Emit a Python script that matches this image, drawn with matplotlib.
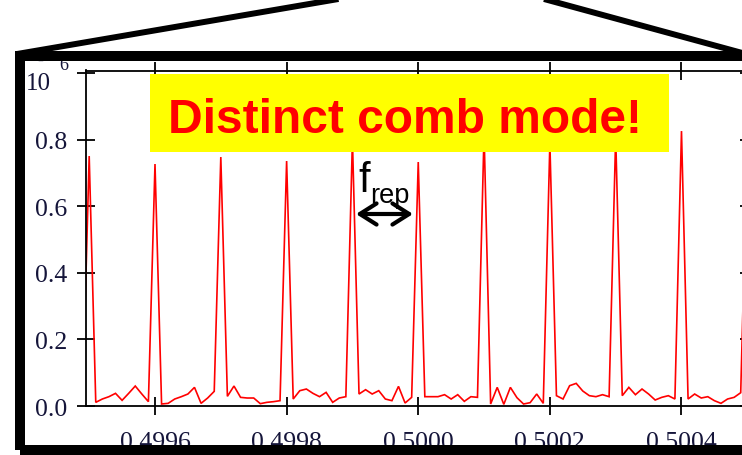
import numpy as np
import matplotlib
matplotlib.use("Agg")
import matplotlib.pyplot as plt
from matplotlib.patches import Rectangle
from matplotlib.lines import Line2D

# ---- spectrum data (power in units of 1e-6) ----
freq_start = 0.49949          # first sample of the frequency grid
freq_step = 1e-5              # spectrum sample spacing

# power at each comb line, lines at 0.4995, 0.4996, ... 0.5005
peak_power = [0.751, 0.727, 0.748, 0.736, 0.800, 0.733, 0.820, 0.790, 0.810, 0.826, 0.800]

# noise floor between neighbouring comb lines (9 samples per gap)
floor_before = [0.020]
floor_gaps = [
    [0.011, 0.021, 0.028, 0.038, 0.017, 0.038, 0.060, 0.036, 0.013],
    [0.006, 0.008, 0.021, 0.028, 0.036, 0.056, 0.008, 0.024, 0.044],
    [0.029, 0.060, 0.026, 0.024, 0.024, 0.007, 0.011, 0.013, 0.016],
    [0.021, 0.046, 0.051, 0.038, 0.028, 0.041, 0.011, 0.024, 0.028],
    [0.036, 0.049, 0.036, 0.046, 0.021, 0.016, 0.059, 0.009, 0.026],
    [0.028, 0.028, 0.028, 0.034, 0.021, 0.034, 0.014, 0.028, 0.026],
    [0.006, 0.056, 0.005, 0.056, 0.025, 0.006, 0.010, 0.036, 0.008],
    [0.031, 0.021, 0.061, 0.068, 0.045, 0.031, 0.028, 0.034, 0.028],
    [0.031, 0.056, 0.034, 0.051, 0.036, 0.018, 0.026, 0.031, 0.021],
    [0.021, 0.036, 0.024, 0.028, 0.016, 0.008, 0.021, 0.026, 0.040],
]
floor_after = [0.020]

x_ticks = [0.4996, 0.4998, 0.5000, 0.5002, 0.5004]
x_tick_labels = ["0.4996", "0.4998", "0.5000", "0.5002", "0.5004"]
y_ticks = [0.0, 0.2, 0.4, 0.6, 0.8, 1.0]
y_tick_labels = ["0.0", "0.2", "0.4", "0.6", "0.8", ""]

# assemble the sampled spectrum
power = list(floor_before)
for i, p in enumerate(peak_power):
    power.append(p)
    if i < len(floor_gaps):
        power.extend(floor_gaps[i])
power.extend(floor_after)
power = np.array(power)
freq = freq_start + freq_step * np.arange(len(power))

# ---- figure ----
W, H = 742, 456
fig = plt.figure(figsize=(W / 100, H / 100), dpi=100)
fig.patch.set_facecolor("white")


def fx(x):
    return x / W


def fy(y):
    return 1 - y / H


ax_l, ax_r, ax_t, ax_b = 86, 748.5, 71.5, 407
ax = fig.add_axes([fx(ax_l), fy(ax_b), (ax_r - ax_l) / W, (ax_b - ax_t) / H])
ax.plot(freq, power, color="#ff0000", lw=1.2, solid_joinstyle="miter")
ax.set_xlim(0.49949516, 0.50050182)
ax.set_ylim(0.0, 1.008)

serif = "Liberation Serif"
label_color = "#15153a"
ax.set_xticks(x_ticks)
ax.set_xticklabels(x_tick_labels, fontfamily=serif, fontsize=18.5, color=label_color)
ax.set_yticks(y_ticks)
ax.set_yticklabels(y_tick_labels, fontfamily=serif, fontsize=18.5, color=label_color)
ax.tick_params(axis="both", direction="inout", length=13.5, width=1.3,
               top=True, right=True, color="black")
ax.tick_params(axis="y", pad=6.8)
ax.tick_params(axis="x", pad=11)
for s in ax.spines.values():
    s.set_linewidth(1.3)
    s.set_color("black")

# axis scale label at the top of the y axis
fig.text(fx(26), fy(90), "10", fontfamily=serif, fontsize=18, color=label_color,
         ha="left", va="baseline", zorder=3)
fig.text(fx(37), fy(66), "-", fontfamily=serif, fontsize=13, color=label_color,
         ha="left", va="baseline", zorder=3)
fig.text(fx(59), fy(70), "6", fontfamily=serif, fontsize=13, color=label_color,
         ha="left", va="baseline", zorder=3)

# highlighted caption
fig.patches.append(Rectangle((fx(150), fy(153)), (669 - 150) / W, (153 - 75) / H,
                             transform=fig.transFigure, facecolor="#ffff00",
                             edgecolor="none", zorder=4))
fig.text(fx(405.5), fy(133.3), "Distinct comb mode!", fontfamily="Liberation Sans",
         fontweight="bold", fontsize=34.5, color="#ff0000", ha="center",
         va="baseline", zorder=5)

# repetition-rate marker
fig.text(fx(358), fy(192), "f", fontfamily="Liberation Sans", fontsize=30,
         color="black", ha="left", va="baseline", zorder=5)
fig.text(fx(370), fy(203), "rep", fontfamily="Liberation Sans", fontsize=19.5,
         color="black", ha="left", va="baseline", zorder=5)
fig.add_artist(matplotlib.patches.FancyArrowPatch(
    (fx(356), fy(215)), (fx(413), fy(215)), transform=fig.transFigure,
    arrowstyle="<->,head_length=0.6,head_width=0.38", mutation_scale=20,
    lw=3, color="black", shrinkA=0, shrinkB=0, zorder=5))

# thick zoom frame and its connector lines
fig.patches.append(Rectangle((fx(20), fy(451)), (770 - 20) / W, (451 - 57) / H,
                             transform=fig.transFigure, facecolor="none",
                             edgecolor="black", lw=7.2, joinstyle="miter",
                             zorder=10))
fig.add_artist(Line2D([fx(17), fx(356)], [fy(55), fy(-3)], transform=fig.transFigure,
                      color="black", lw=4.3, solid_capstyle="butt", zorder=10))
fig.add_artist(Line2D([fx(533), fx(746)], [fy(-3), fy(55)], transform=fig.transFigure,
                      color="black", lw=4.3, solid_capstyle="butt", zorder=10))

fig.savefig("out.png", dpi=100)
